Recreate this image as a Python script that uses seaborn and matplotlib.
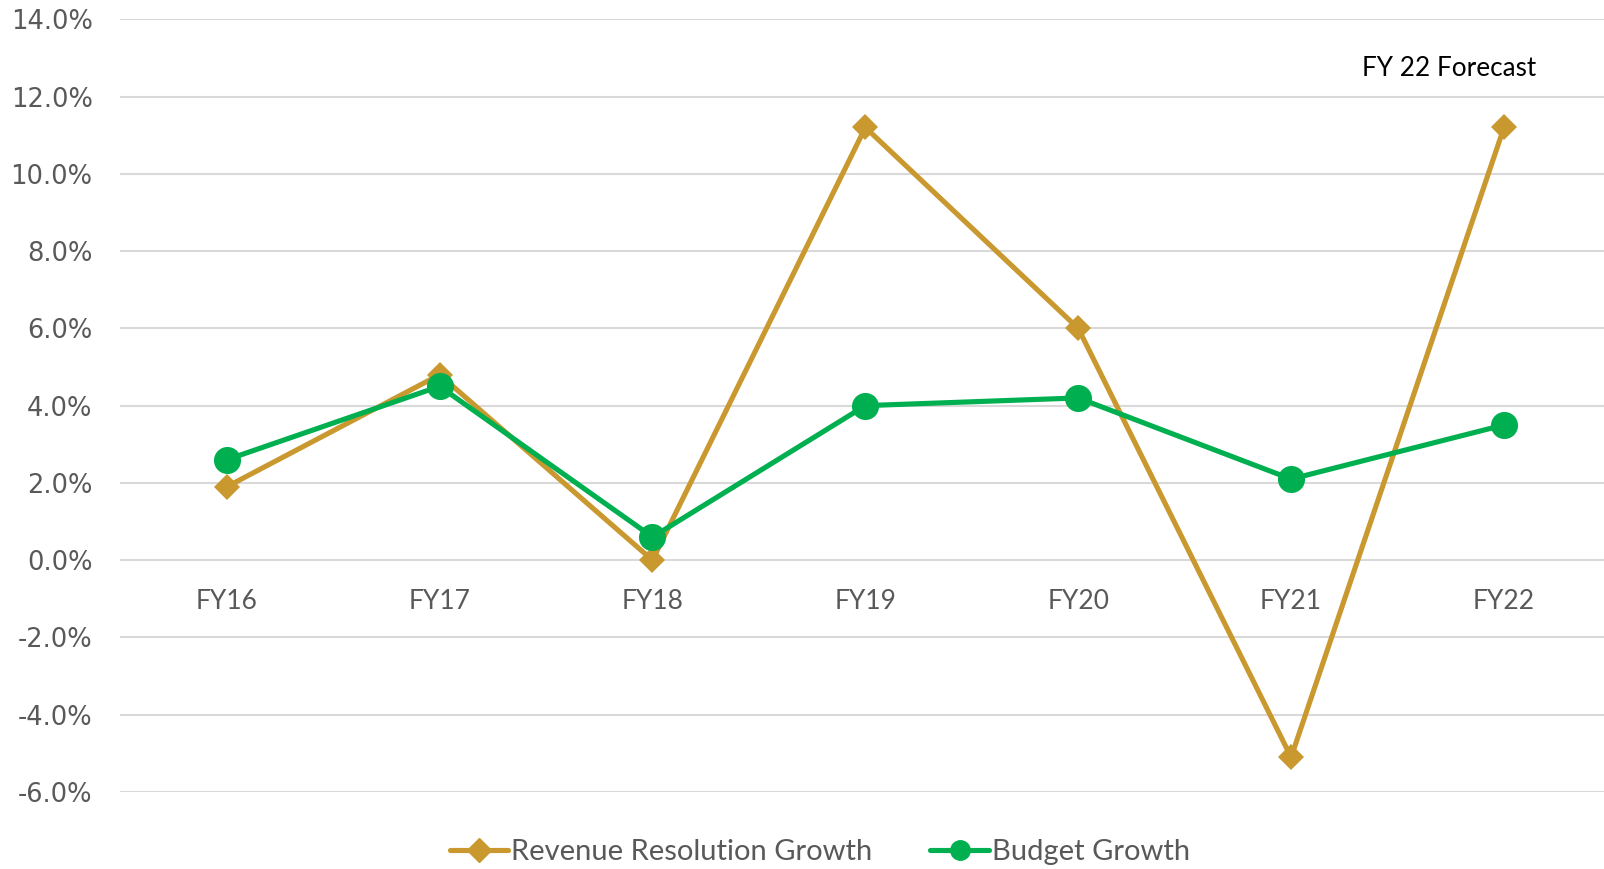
import numpy as np
import pandas as pd
import matplotlib
matplotlib.use("Agg")
import matplotlib.pyplot as plt
import seaborn as sns
from matplotlib.ticker import FuncFormatter

# data (percent)
years = ['FY16', 'FY17', 'FY18', 'FY19', 'FY20', 'FY21', 'FY22']
revenue_growth = [1.9, 4.8, 0.0, 11.2, 6.0, -5.1, 11.2]
budget_growth = [2.6, 4.5, 0.6, 4.0, 4.2, 2.1, 3.5]
series_names = ['Revenue Resolution Growth', 'Budget Growth']
y_ticks = [-6, -4, -2, 0, 2, 4, 6, 8, 10, 12, 14]
note_text = 'FY 22 Forecast'

GOLD = '#C9982E'
GREEN = '#00B050'
GRID = '#D9D9D9'
LABEL = '#595959'

df = pd.concat([
    pd.DataFrame({'year': years, 'growth': revenue_growth, 'series': series_names[0]}),
    pd.DataFrame({'year': years, 'growth': budget_growth, 'series': series_names[1]}),
])

sns.set_theme(style="white")
plt.rcParams['font.family'] = ['Lato', 'DejaVu Sans']

fig = plt.figure(figsize=(16.04, 8.69), dpi=100)
ax = fig.add_axes([0.075, 0.0886, 0.929, 0.8892])

sns.lineplot(data=df, x='year', y='growth', hue='series', style='series',
             hue_order=series_names, style_order=series_names,
             palette=[GOLD, GREEN], markers=['D', 'o'], dashes=False,
             linewidth=3.7, markeredgewidth=0, ax=ax, legend=False,
             sort=False)

# marker sizes differ per series
lines = ax.get_lines()
lines[0].set_markersize(13.5)
lines[1].set_markersize(19.5)
lines[1].set_zorder(3)

ax.set_xlim(-0.5, len(years) - 0.5)
ax.set_ylim(-6, 14)
ax.set_yticks(y_ticks)
ax.yaxis.set_major_formatter(FuncFormatter(lambda v, p: f"{v:.1f}%"))
ax.grid(axis='y', color=GRID, linewidth=1.5)
ax.set_axisbelow(True)
for s in ax.spines.values():
    s.set_visible(False)
ax.spines['bottom'].set_position(('data', 0))
ax.tick_params(axis='both', length=0, labelcolor=LABEL, labelsize=19)
ax.tick_params(axis='x', pad=21)
ax.tick_params(axis='y', pad=20)
for t in ax.get_yticklabels():
    t.set_family(['DejaVu Sans'])
    t.set_fontsize(18.5)
ax.set_xlabel('')
ax.set_ylabel('')

ax.text(5.74, 12.72, note_text, ha='center', va='center', fontsize=18.8, color='black')

handles = [plt.Line2D([], [], color=GOLD, marker='D', markersize=12, linewidth=3.7),
           plt.Line2D([], [], color=GREEN, marker='o', markersize=14, linewidth=3.7)]
fig.legend(handles, series_names, loc='center', bbox_to_anchor=(0.511, 0.019),
           ncol=2, frameon=False, fontsize=21, labelcolor=LABEL,
           handlelength=2.0, handletextpad=0.1, columnspacing=2.0)

fig.savefig('out.png', dpi=100)
